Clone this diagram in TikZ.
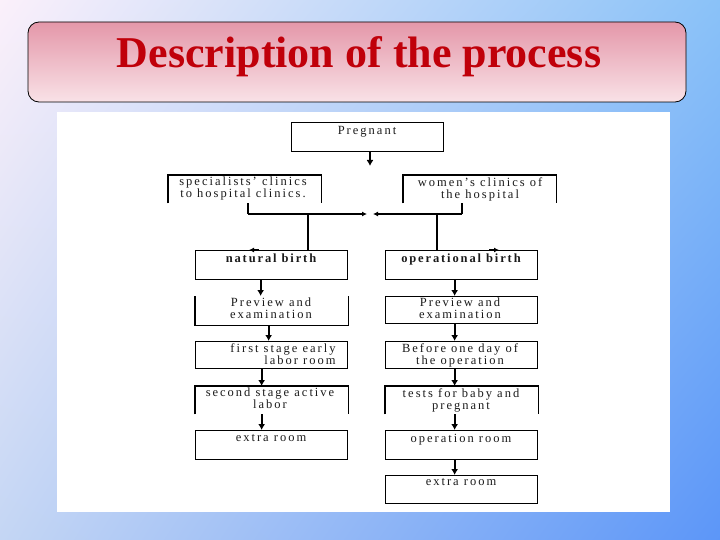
\documentclass[tikz,border=0pt]{standalone}
\usepackage{fontspec}
\setmainfont{Liberation Serif}
\usetikzlibrary{arrows.meta,shadings}
\definecolor{bgUL}{HTML}{FBF0FA}
\definecolor{bgUR}{HTML}{8AC2F8}
\definecolor{bgLL}{HTML}{C4D6F4}
\definecolor{bgLR}{HTML}{5C96F8}
\definecolor{ttop}{HTML}{E497A9}
\definecolor{tbot}{HTML}{F9E2E7}
\definecolor{tred}{HTML}{C0000A}
\definecolor{ink}{HTML}{1A1A1A}
\begin{document}
\begin{tikzpicture}[x=1pt,y=-1pt,
  box/.style={rectangle,draw=black,line width=1.3pt,minimum width=152pt,minimum height=29pt,inner sep=0pt,anchor=north west},
  obox/.style={box,draw=none},
  side/.style={line width=1.3pt},
  txt/.style={anchor=north,inner sep=0pt,align=center,text=ink,font=\fontsize{12.5}{12}\selectfont\addfontfeatures{LetterSpace=16}},
  btxt/.style={txt,font=\fontsize{12.5}{12}\selectfont\bfseries\addfontfeatures{LetterSpace=15}},
  arr/.style={line width=2pt,-{Latex[length=6pt,width=7pt]}},
  arrs/.style={line width=1.8pt,-{Latex[length=5pt,width=5pt]}},
  ln/.style={line width=1.8pt}]
% background
\shade[upper left=bgUL,upper right=bgUR,lower left=bgLL,lower right=bgLR] (0,0) rectangle (720,540);
\useasboundingbox (0,0) rectangle (720,540);
% title
\node[draw=black,line width=0.8pt,rounded corners=11pt,top color=ttop,bottom color=tbot,
      minimum width=658pt,minimum height=80pt,inner sep=0pt] (title) at (357,62) {};
\node[text=tred,font=\fontsize{44}{48}\selectfont\bfseries,inner sep=0pt] (ttl) at (359,57) {Description of the process};
% white panel
\fill[white] (57,112) rectangle (670,512);

% boxes
\node[box] (preg) at (291,122) {};
\node[obox,minimum height=27pt] (spec) at (168,175) {};
\node[obox,minimum height=27pt] (wom) at (403,175) {};
\node[box] (nat) at (195,250) {};
\node[box] (opb) at (385,250) {};
\node[obox,minimum height=28pt] (prl) at (195,296) {};
\node[box,minimum height=27pt] (prr) at (385,296) {};
\node[box,minimum height=27pt] (fst) at (195,341) {};
\node[box,minimum height=27pt] (bef) at (385,341) {};
\node[obox,minimum height=27pt] (sec) at (195,386) {};
\node[obox,minimum height=27pt] (tst) at (385,386) {};
\node[box] (exl) at (195,430) {};
\node[box] (opr) at (385,430) {};
\node[box,minimum height=28pt] (exr) at (385,475) {};

% open box sides
\draw[side] (spec.south west) -- (spec.north west) -- (spec.north east) -- (spec.south east);
\draw[side] (wom.south west) -- (wom.north west) -- (wom.north east) -- (wom.south east);
\draw[side] (prl.north west) -- (prl.south west) -- (prl.south east) -- (prl.north east);
\draw[side] (sec.south west) -- (sec.north west) -- (sec.north east) -- (sec.south east);
\draw[side] (tst.south west) -- (tst.north west) -- (tst.north east) -- (tst.south east);

% texts
\node[txt] (t1) at (367,126) {Pregnant};
\node[txt] (t2) at (243,177) {specialists' clinics\\to hospital clinics.};
\node[txt] (t3) at (480,177) {women's clinics of\\the hospital};
\node[btxt] (t4) at (271,254) {natural birth};
\node[btxt] (t5) at (461,254) {operational birth};
\node[txt] (t6) at (271,298) {Preview and\\examination};
\node[txt] (t7) at (460,298) {Preview and\\examination};
\node[txt,align=right] (t8) at (283,343) {first stage early\\labor room};
\node[txt] (t9) at (460,343) {Before one day of\\the operation};
\node[txt] (t10) at (270,388) {second stage active\\labor};
\node[txt] (t11) at (461,388) {tests for baby and\\pregnant};
\node[txt] (t12) at (271,434) {extra room};
\node[txt] (t13) at (461,434) {operation room};
\node[txt] (t14) at (461,478) {extra room};

% connectors
\coordinate (pe) at (370,166);
\draw[arr] (preg.south -| pe) -- (pe);
\coordinate (jl) at (248,214);
\coordinate (jr) at (462,214);
\coordinate (cl) at (367,214);
\coordinate (cr) at (373,214);
\draw[ln] (spec.south -| jl) -- (jl);
\draw[ln] (wom.south -| jr) -- (jr);
\draw[arrs] (jl) -- (cl);
\draw[arrs] (jr) -- (cr);
\coordinate (vl) at (308,214);
\coordinate (vr) at (437,214);
\draw[ln] (vl) -- (vl |- nat.north);
\draw[ln] (vr) -- (vr |- opb.north);
\coordinate (s1) at (259,250);
\coordinate (s1e) at (249,250);
\coordinate (s2) at (489,250);
\coordinate (s2e) at (499,250);
\draw[arrs] (s1) -- (s1e);
\draw[arrs] (s2) -- (s2e);

\draw[arr] ([xshift=-11pt]nat.south) -- ([xshift=-11pt]prl.north);
\draw[arr] ([xshift=-3pt]prl.south) -- ([xshift=-3pt]fst.north);
\draw[arr] ([xshift=-10pt]fst.south) -- ([xshift=-10pt]sec.north);
\draw[arr] ([xshift=-10pt]sec.south) -- ([xshift=-10pt]exl.north);
\draw[arr] ([xshift=-7pt]opb.south) -- ([xshift=-7pt]prr.north);
\draw[arr] ([xshift=-7pt]prr.south) -- ([xshift=-7pt]bef.north);
\draw[arr] ([xshift=-7pt]bef.south) -- ([xshift=-7pt]tst.north);
\draw[arr] ([xshift=-7pt]tst.south) -- ([xshift=-7pt]opr.north);
\draw[arr] ([xshift=-7pt]opr.south) -- ([xshift=-7pt]exr.north);
\end{tikzpicture}
\end{document}
